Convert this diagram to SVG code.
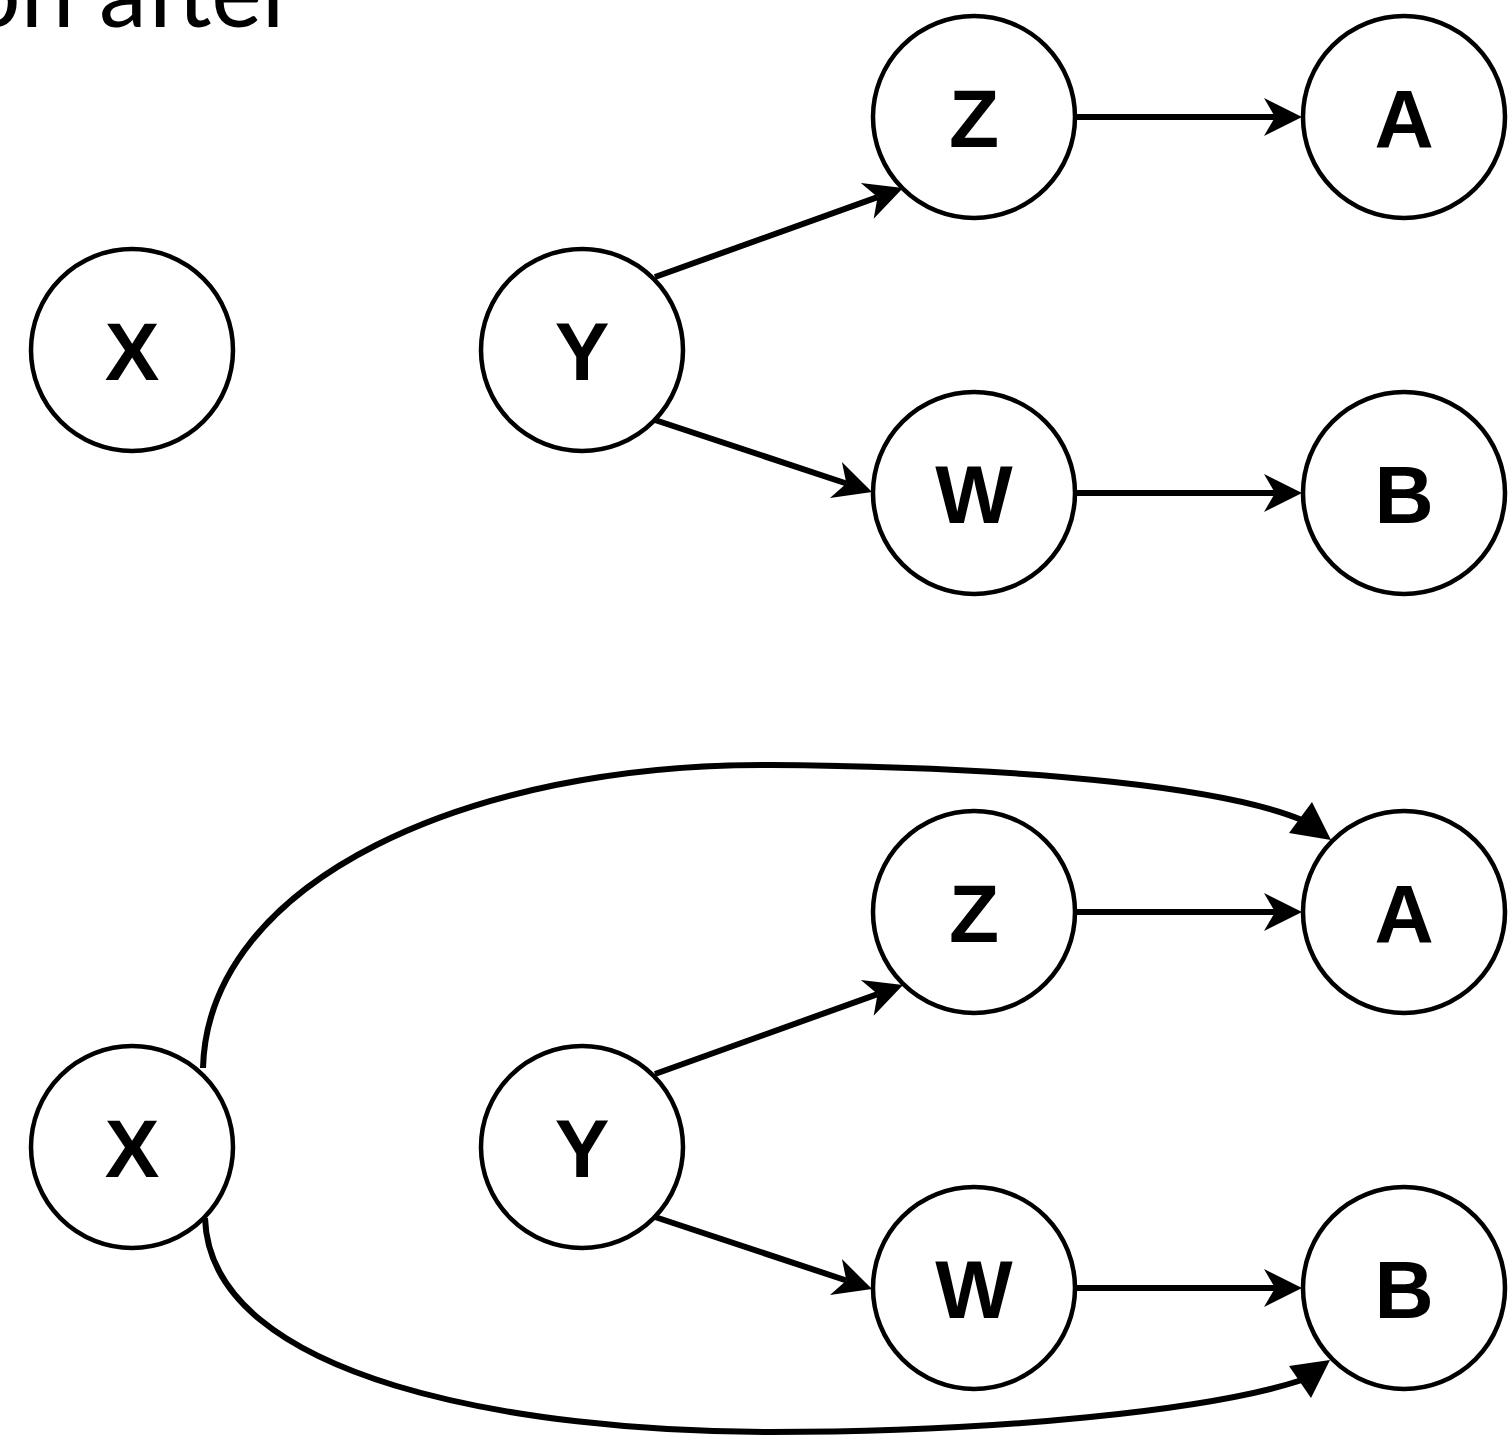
<svg xmlns="http://www.w3.org/2000/svg" width="1512" height="1436" viewBox="0 0 1512 1436">
<style>
.node circle{fill:#fff;stroke:#000;stroke-width:4.5}
.node text{font-family:"Liberation Sans",Arial,sans-serif;font-size:82px;font-weight:bold;text-anchor:middle;fill:#000}
.edge{fill:none;stroke:#000;stroke-width:6}
.title{font-family:Lato,"Open Sans",sans-serif;font-size:96px;fill:#000}
</style>
<defs>
<marker id="stealth" markerUnits="userSpaceOnUse" markerWidth="60" markerHeight="60" viewBox="-20 -30 60 60" refX="0" refY="0" orient="auto">
<path d="M27,0 L-11,-19 L0,0 L-11,19 Z" fill="#000"/>
</marker>
</defs>
<rect width="1512" height="1436" fill="#fff"/>
<text class="title" x="297" y="27" text-anchor="end">on after</text>
<g id="edges">
<line class="edge" x1="655" y1="277" x2="877.6" y2="197.1" marker-end="url(#stealth)"/>
<line class="edge" x1="655" y1="420" x2="846.4" y2="483.5" marker-end="url(#stealth)"/>
<line class="edge" x1="1077" y1="117" x2="1275" y2="117" marker-end="url(#stealth)"/>
<line class="edge" x1="1077" y1="493" x2="1275" y2="493" marker-end="url(#stealth)"/>
<line class="edge" x1="655" y1="1074" x2="877.6" y2="994.1" marker-end="url(#stealth)"/>
<line class="edge" x1="655" y1="1217" x2="846.4" y2="1280.5" marker-end="url(#stealth)"/>
<line class="edge" x1="1077" y1="912" x2="1275" y2="912" marker-end="url(#stealth)"/>
<line class="edge" x1="1077" y1="1288" x2="1275" y2="1288" marker-end="url(#stealth)"/>
<path class="edge" d="M203,1068 C208,880 470,763 770,765 C1050,767 1230,790 1302,820"/>
<polygon points="1312,802 1289,833 1331,840" fill="#000"/>
<path class="edge" d="M205,1218 C210,1380 520,1432 770,1432 C1000,1432 1210,1410 1302,1380"/>
<polygon points="1289,1366 1311,1398 1330,1360" fill="#000"/>
</g>
<g id="top-X" class="node"><circle cx="132" cy="350" r="101"/><text x="132" y="380">X</text></g>
<g id="top-Y" class="node"><circle cx="582" cy="350" r="101"/><text x="582" y="380">Y</text></g>
<g id="top-Z" class="node"><circle cx="974" cy="117" r="101"/><text x="974" y="147">Z</text></g>
<g id="top-A" class="node"><circle cx="1404" cy="117" r="101"/><text x="1404" y="147">A</text></g>
<g id="top-W" class="node"><circle cx="974" cy="493" r="101"/><text x="974" y="523">W</text></g>
<g id="top-B" class="node"><circle cx="1404" cy="493" r="101"/><text x="1404" y="523">B</text></g>
<g id="bot-X" class="node"><circle cx="132" cy="1147" r="101"/><text x="132" y="1177">X</text></g>
<g id="bot-Y" class="node"><circle cx="582" cy="1147" r="101"/><text x="582" y="1177">Y</text></g>
<g id="bot-Z" class="node"><circle cx="974" cy="912" r="101"/><text x="974" y="942">Z</text></g>
<g id="bot-A" class="node"><circle cx="1404" cy="912" r="101"/><text x="1404" y="942">A</text></g>
<g id="bot-W" class="node"><circle cx="974" cy="1288" r="101"/><text x="974" y="1318">W</text></g>
<g id="bot-B" class="node"><circle cx="1404" cy="1288" r="101"/><text x="1404" y="1318">B</text></g>
</svg>
